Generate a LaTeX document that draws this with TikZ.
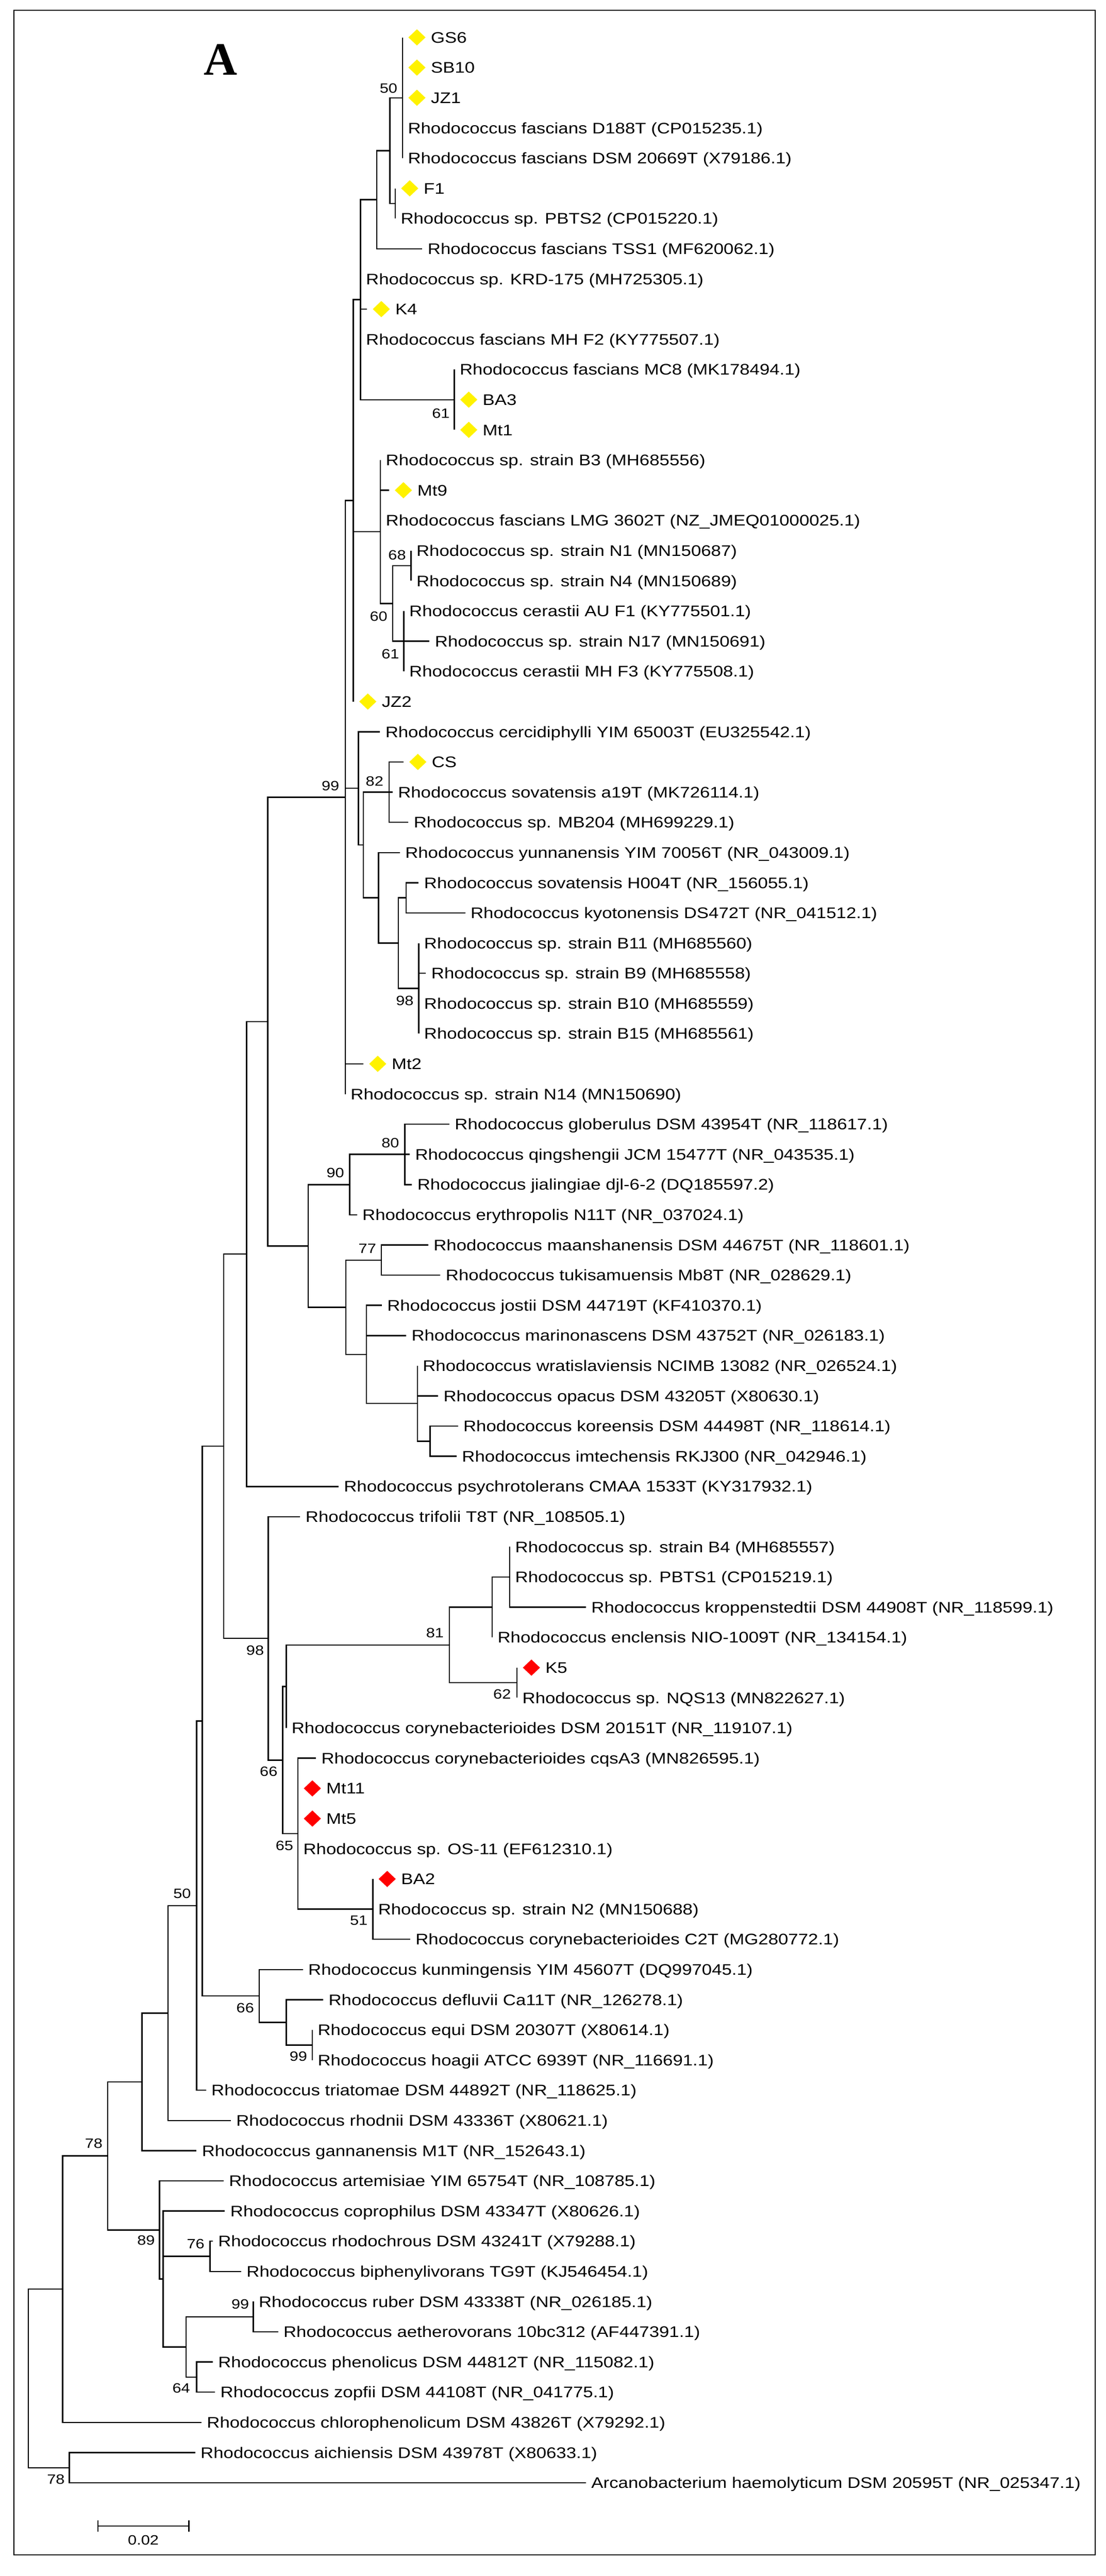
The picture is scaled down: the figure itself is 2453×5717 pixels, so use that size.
\documentclass[tikz,border=0pt]{standalone}
\usepackage{fontspec}
\setmainfont{Liberation Sans}[FakeStretch=1.17]
\newfontfamily\panelfont{Liberation Serif}
\usetikzlibrary{positioning,shapes.geometric}
\tikzset{
	taxon/.style={anchor=west, inner xsep=3pt, inner ysep=0pt, outer sep=0pt, text height=6.1pt, text depth=0pt, font=\fontsize{8.5pt}{10pt}\selectfont},
	boot/.style={inner sep=0pt, outer sep=0pt, text height=5.4pt, text depth=0pt, font=\fontsize{7.5pt}{9pt}\selectfont},
	isoY/.style={diamond, draw=none, fill=yellow, inner sep=0pt, outer sep=0pt, minimum width=9.5pt, minimum height=9pt},
	isoR/.style={isoY, fill=red},
	panel/.style={inner sep=0pt, text height=17pt, text depth=0pt, font=\panelfont\bfseries\fontsize{25.75pt}{30pt}\selectfont}
}
\begin{document}
\begin{tikzpicture}[x=0.25pt, y=-0.25pt, line width=0.7pt]
	\useasboundingbox (0,0) rectangle (2453,5717);
	\draw (31,23) rectangle (2430,5670);
	\node[panel] (pA) at (489,132) {A};

	% internal nodes
	\coordinate (n50a) at (893,217);
	\coordinate (nF1) at (877,451.5);
	\coordinate (nB) at (865,334.25);
	\coordinate (nC) at (836,443.1);
	\coordinate (n61a) at (1008,887);
	\coordinate (nD) at (800,665);
	\coordinate (n68) at (912,1255.5);
	\coordinate (n61b) at (896,1423);
	\coordinate (n60) at (871,1339.25);
	\coordinate (nF) at (844,1180.1);
	\coordinate (nE) at (784,1111);
	\coordinate (n82) at (863,1758);
	\coordinate (nO) at (901,1992.5);
	\coordinate (n98a) at (929,2193.5);
	\coordinate (nN) at (884,2093);
	\coordinate (nM) at (840,1992.5);
	\coordinate (nK) at (806,1875.25);
	\coordinate (nJ) at (795,1749.6);
	\coordinate (n99a) at (766,1769.5);
	\coordinate (n80) at (898,2562);
	\coordinate (n90) at (776,2629);
	\coordinate (n77) at (846,2796.5);
	\coordinate (nY) at (954,3198.5);
	\coordinate (nX) at (926,3114.75);
	\coordinate (nW) at (813,3005.9);
	\coordinate (nT) at (767,2901.2);
	\coordinate (nR) at (684,2765.1);
	\coordinate (nQ) at (594,2267.3);
	\coordinate (nZ) at (547,2783.2);
	\coordinate (nAI) at (1131,3500);
	\coordinate (nAG) at (1092,3567);
	\coordinate (n62) at (1147,3734.5);
	\coordinate (n81) at (997,3650.75);
	\coordinate (nAE) at (635,3742.9);
	\coordinate (n51) at (827,4237);
	\coordinate (n65) at (661,4069.5);
	\coordinate (n66a) at (627,3906.2);
	\coordinate (n98b) at (595,3636.1);
	\coordinate (nAA) at (496,3209.6);
	\coordinate (n99b) at (693,4538.5);
	\coordinate (nAN) at (635,4488.25);
	\coordinate (n66b) at (575,4429.6);
	\coordinate (nAK) at (449,3819.6);
	\coordinate (n50b) at (436,4229.3);
	\coordinate (nAP) at (373,4467.7);
	\coordinate (nAQ) at (315,4620.3);
	\coordinate (n76) at (466,5007.5);
	\coordinate (n99c) at (562,5141.5);
	\coordinate (n64) at (436,5275.5);
	\coordinate (nAV) at (413,5208.5);
	\coordinate (nAT) at (362,5057.75);
	\coordinate (n89) at (354,4948.9);
	\coordinate (n78a) at (239,4784.6);
	\coordinate (nAY) at (139,5080.3);
	\coordinate (n78b) at (154,5476.5);
	\coordinate (root) at (63,5278.4);

	% isolates
	\coordinate (c0) at (893,83);    \node[isoY, right=3.25pt of c0] (d0) {};   \node[taxon] (t0) at (d0.east) {GS6};
	\coordinate (c1) at (893,150);   \node[isoY, right=3.25pt of c1] (d1) {};   \node[taxon] (t1) at (d1.east) {SB10};
	\coordinate (c2) at (893,217);   \node[isoY, right=3.25pt of c2] (d2) {};   \node[taxon] (t2) at (d2.east) {JZ1};
	\coordinate (c5) at (877,418);   \node[isoY, right=3.25pt of c5] (d5) {};   \node[taxon] (t5) at (d5.east) {F1};
	\coordinate (c9) at (814,686);   \node[isoY, right=3.25pt of c9] (d9) {};   \node[taxon] (t9) at (d9.east) {K4};
	\coordinate (c12) at (1008,887); \node[isoY, right=3.25pt of c12] (d12) {}; \node[taxon] (t12) at (d12.east) {BA3};
	\coordinate (c13) at (1008,954); \node[isoY, right=3.25pt of c13] (d13) {}; \node[taxon] (t13) at (d13.east) {Mt1};
	\coordinate (c15) at (863,1088); \node[isoY, right=3.25pt of c15] (d15) {}; \node[taxon] (t15) at (d15.east) {Mt9};
	\coordinate (c22) at (784,1557); \node[isoY, right=3.25pt of c22] (d22) {}; \node[taxon] (t22) at (d22.east) {JZ2};
	\coordinate (c24) at (895,1691); \node[isoY, right=3.25pt of c24] (d24) {}; \node[taxon] (t24) at (d24.east) {CS};
	\coordinate (c34) at (806,2361); \node[isoY, right=3.25pt of c34] (d34) {}; \node[taxon] (t34) at (d34.east) {Mt2};
	\coordinate (c54) at (1147,3701); \node[isoR, right=3.25pt of c54] (d54) {}; \node[taxon] (t54) at (d54.east) {K5};
	\coordinate (c58) at (661,3969); \node[isoR, right=3.25pt of c58] (d58) {}; \node[taxon] (t58) at (d58.east) {Mt11};
	\coordinate (c59) at (661,4036); \node[isoR, right=3.25pt of c59] (d59) {}; \node[taxon] (t59) at (d59.east) {Mt5};
	\coordinate (c61) at (827,4170); \node[isoR, right=3.25pt of c61] (d61) {}; \node[taxon] (t61) at (d61.east) {BA2};

	% reference strains
	\node[taxon] (t3) at (893,284) {Rhodococcus fascians D188T (CP015235.1)};
	\node[taxon] (t4) at (893,351) {Rhodococcus fascians DSM 20669T (X79186.1)};
	\node[taxon] (t6) at (877,485) {Rhodococcus sp. PBTS2 (CP015220.1)};
	\node[taxon] (t7) at (937,552) {Rhodococcus fascians TSS1 (MF620062.1)};
	\node[taxon] (t8) at (800,619) {Rhodococcus sp. KRD-175 (MH725305.1)};
	\node[taxon] (t10) at (800,753) {Rhodococcus fascians MH F2 (KY775507.1)};
	\node[taxon] (t11) at (1008,820) {Rhodococcus fascians MC8 (MK178494.1)};
	\node[taxon] (t14) at (844,1021) {Rhodococcus sp. strain B3 (MH685556)};
	\node[taxon] (t16) at (844,1155) {Rhodococcus fascians LMG 3602T (NZ\_JMEQ01000025.1)};
	\node[taxon] (t17) at (912,1222) {Rhodococcus sp. strain N1 (MN150687)};
	\node[taxon] (t18) at (912,1289) {Rhodococcus sp. strain N4 (MN150689)};
	\node[taxon] (t19) at (896,1356) {Rhodococcus cerastii AU F1 (KY775501.1)};
	\node[taxon] (t20) at (953,1423) {Rhodococcus sp. strain N17 (MN150691)};
	\node[taxon] (t21) at (896,1490) {Rhodococcus cerastii MH F3 (KY775508.1)};
	\node[taxon] (t23) at (843,1624) {Rhodococcus cercidiphylli YIM 65003T (EU325542.1)};
	\node[taxon] (t25) at (871,1758) {Rhodococcus sovatensis a19T (MK726114.1)};
	\node[taxon] (t26) at (906,1825) {Rhodococcus sp. MB204 (MH699229.1)};
	\node[taxon] (t27) at (887,1892) {Rhodococcus yunnanensis YIM 70056T (NR\_043009.1)};
	\node[taxon] (t28) at (929,1959) {Rhodococcus sovatensis H004T (NR\_156055.1)};
	\node[taxon] (t29) at (1032,2026) {Rhodococcus kyotonensis DS472T (NR\_041512.1)};
	\node[taxon] (t30) at (929,2093) {Rhodococcus sp. strain B11 (MH685560)};
	\node[taxon] (t31) at (945,2160) {Rhodococcus sp. strain B9 (MH685558)};
	\node[taxon] (t32) at (929,2227) {Rhodococcus sp. strain B10 (MH685559)};
	\node[taxon] (t33) at (929,2294) {Rhodococcus sp. strain B15 (MH685561)};
	\node[taxon] (t35) at (766,2428) {Rhodococcus sp. strain N14 (MN150690)};
	\node[taxon] (t36) at (997,2495) {Rhodococcus globerulus DSM 43954T (NR\_118617.1)};
	\node[taxon] (t37) at (909,2562) {Rhodococcus qingshengii JCM 15477T (NR\_043535.1)};
	\node[taxon] (t38) at (914,2629) {Rhodococcus jialingiae djl-6-2 (DQ185597.2)};
	\node[taxon] (t39) at (792,2696) {Rhodococcus erythropolis N11T (NR\_037024.1)};
	\node[taxon] (t40) at (950,2763) {Rhodococcus maanshanensis DSM 44675T (NR\_118601.1)};
	\node[taxon] (t41) at (977,2830) {Rhodococcus tukisamuensis Mb8T (NR\_028629.1)};
	\node[taxon] (t42) at (847,2897) {Rhodococcus jostii DSM 44719T (KF410370.1)};
	\node[taxon] (t43) at (901,2964) {Rhodococcus marinonascens DSM 43752T (NR\_026183.1)};
	\node[taxon] (t44) at (926,3031) {Rhodococcus wratislaviensis NCIMB 13082 (NR\_026524.1)};
	\node[taxon] (t45) at (972,3098) {Rhodococcus opacus DSM 43205T (X80630.1)};
	\node[taxon] (t46) at (1016,3165) {Rhodococcus koreensis DSM 44498T (NR\_118614.1)};
	\node[taxon] (t47) at (1013,3232) {Rhodococcus imtechensis RKJ300 (NR\_042946.1)};
	\node[taxon] (t48) at (751,3299) {Rhodococcus psychrotolerans CMAA 1533T (KY317932.1)};
	\node[taxon] (t49) at (666,3366) {Rhodococcus trifolii T8T (NR\_108505.1)};
	\node[taxon] (t50) at (1131,3433) {Rhodococcus sp. strain B4 (MH685557)};
	\node[taxon] (t51) at (1131,3500) {Rhodococcus sp. PBTS1 (CP015219.1)};
	\node[taxon] (t52) at (1300,3567) {Rhodococcus kroppenstedtii DSM 44908T (NR\_118599.1)};
	\node[taxon] (t53) at (1092,3634) {Rhodococcus enclensis NIO-1009T (NR\_134154.1)};
	\node[taxon] (t55) at (1147,3768) {Rhodococcus sp. NQS13 (MN822627.1)};
	\node[taxon] (t56) at (635,3835) {Rhodococcus corynebacterioides DSM 20151T (NR\_119107.1)};
	\node[taxon] (t57) at (701,3902) {Rhodococcus corynebacterioides cqsA3 (MN826595.1)};
	\node[taxon] (t60) at (661,4103) {Rhodococcus sp. OS-11 (EF612310.1)};
	\node[taxon] (t62) at (827,4237) {Rhodococcus sp. strain N2 (MN150688)};
	\node[taxon] (t63) at (910,4304) {Rhodococcus corynebacterioides C2T (MG280772.1)};
	\node[taxon] (t64) at (672,4371) {Rhodococcus kunmingensis YIM 45607T (DQ997045.1)};
	\node[taxon] (t65) at (717,4438) {Rhodococcus defluvii Ca11T (NR\_126278.1)};
	\node[taxon] (t66) at (693,4505) {Rhodococcus equi DSM 20307T (X80614.1)};
	\node[taxon] (t67) at (693,4572) {Rhodococcus hoagii ATCC 6939T (NR\_116691.1)};
	\node[taxon] (t68) at (457,4639) {Rhodococcus triatomae DSM 44892T (NR\_118625.1)};
	\node[taxon] (t69) at (512,4706) {Rhodococcus rhodnii DSM 43336T (X80621.1)};
	\node[taxon] (t70) at (436,4773) {Rhodococcus gannanensis M1T (NR\_152643.1)};
	\node[taxon] (t71) at (496,4840) {Rhodococcus artemisiae YIM 65754T (NR\_108785.1)};
	\node[taxon] (t72) at (499,4907) {Rhodococcus coprophilus DSM 43347T (X80626.1)};
	\node[taxon] (t73) at (472,4974) {Rhodococcus rhodochrous DSM 43241T (X79288.1)};
	\node[taxon] (t74) at (535,5041) {Rhodococcus biphenylivorans TG9T (KJ546454.1)};
	\node[taxon] (t75) at (562,5108) {Rhodococcus ruber DSM 43338T (NR\_026185.1)};
	\node[taxon] (t76) at (617,5175) {Rhodococcus aetherovorans 10bc312 (AF447391.1)};
	\node[taxon] (t77) at (472,5242) {Rhodococcus phenolicus DSM 44812T (NR\_115082.1)};
	\node[taxon] (t78) at (477,5309) {Rhodococcus zopfii DSM 44108T (NR\_041775.1)};
	\node[taxon] (t79) at (447,5376) {Rhodococcus chlorophenolicum DSM 43826T (X79292.1)};
	\node[taxon] (t80) at (433,5443) {Rhodococcus aichiensis DSM 43978T (X80633.1)};
	\node[taxon] (t81) at (1300,5510) {Arcanobacterium haemolyticum DSM 20595T (NR\_025347.1)};

	% branches
	\draw (n50a) |- (c0) (n50a) |- (c1) (n50a) |- (c2) (n50a) |- (t3.west) (n50a) |- (t4.west);
	\draw (nF1) |- (c5) (nF1) |- (t6.west);
	\draw (nB) |- (n50a) (nB) |- (nF1);
	\draw (nC) |- (nB) (nC) |- (t7.west);
	\draw (n61a) |- (t11.west) (n61a) |- (c12) (n61a) |- (c13);
	\draw (nD) |- (nC) (nD) |- (t8.west) (nD) |- (c9) (nD) |- (t10.west) (nD) |- (n61a);
	\draw (n68) |- (t17.west) (n68) |- (t18.west);
	\draw (n61b) |- (t19.west) (n61b) |- (t20.west) (n61b) |- (t21.west);
	\draw (n60) |- (n68) (n60) |- (n61b);
	\draw (nF) |- (t14.west) (nF) |- (c15) (nF) |- (t16.west) (nF) |- (n60);
	\draw (nE) |- (nD) (nE) |- (nF) (nE) |- (c22);
	\draw (n82) |- (c24) (n82) |- (t25.west) (n82) |- (t26.west);
	\draw (nO) |- (t28.west) (nO) |- (t29.west);
	\draw (n98a) |- (t30.west) (n98a) |- (t31.west) (n98a) |- (t32.west) (n98a) |- (t33.west);
	\draw (nN) |- (nO) (nN) |- (n98a);
	\draw (nM) |- (t27.west) (nM) |- (nN);
	\draw (nK) |- (n82) (nK) |- (nM);
	\draw (nJ) |- (t23.west) (nJ) |- (nK);
	\draw (n99a) |- (nE) (n99a) |- (nJ) (n99a) |- (c34) (n99a) |- (t35.west);
	\draw (n80) |- (t36.west) (n80) |- (t37.west) (n80) |- (t38.west);
	\draw (n90) |- (n80) (n90) |- (t39.west);
	\draw (n77) |- (t40.west) (n77) |- (t41.west);
	\draw (nY) |- (t46.west) (nY) |- (t47.west);
	\draw (nX) |- (t44.west) (nX) |- (t45.west) (nX) |- (nY);
	\draw (nW) |- (t42.west) (nW) |- (t43.west) (nW) |- (nX);
	\draw (nT) |- (n77) (nT) |- (nW);
	\draw (nR) |- (n90) (nR) |- (nT);
	\draw (nQ) |- (n99a) (nQ) |- (nR);
	\draw (nZ) |- (nQ) (nZ) |- (t48.west);
	\draw (nAI) |- (t50.west) (nAI) |- (t51.west) (nAI) |- (t52.west);
	\draw (nAG) |- (nAI) (nAG) |- (t53.west);
	\draw (n62) |- (c54) (n62) |- (t55.west);
	\draw (n81) |- (nAG) (n81) |- (n62);
	\draw (nAE) |- (n81) (nAE) |- (t56.west);
	\draw (n51) |- (c61) (n51) |- (t62.west) (n51) |- (t63.west);
	\draw (n65) |- (t57.west) (n65) |- (c58) (n65) |- (c59) (n65) |- (t60.west) (n65) |- (n51);
	\draw (n66a) |- (nAE) (n66a) |- (n65);
	\draw (n98b) |- (t49.west) (n98b) |- (n66a);
	\draw (nAA) |- (nZ) (nAA) |- (n98b);
	\draw (n99b) |- (t66.west) (n99b) |- (t67.west);
	\draw (nAN) |- (t65.west) (nAN) |- (n99b);
	\draw (n66b) |- (t64.west) (n66b) |- (nAN);
	\draw (nAK) |- (nAA) (nAK) |- (n66b);
	\draw (n50b) |- (nAK) (n50b) |- (t68.west);
	\draw (nAP) |- (n50b) (nAP) |- (t69.west);
	\draw (nAQ) |- (nAP) (nAQ) |- (t70.west);
	\draw (n76) |- (t73.west) (n76) |- (t74.west);
	\draw (n99c) |- (t75.west) (n99c) |- (t76.west);
	\draw (n64) |- (t77.west) (n64) |- (t78.west);
	\draw (nAV) |- (n99c) (nAV) |- (n64);
	\draw (nAT) |- (t72.west) (nAT) |- (n76) (nAT) |- (nAV);
	\draw (n89) |- (t71.west) (n89) |- (nAT);
	\draw (n78a) |- (nAQ) (n78a) |- (n89);
	\draw (nAY) |- (n78a) (nAY) |- (t79.west);
	\draw (n78b) |- (t80.west) (n78b) |- (t81.west);
	\draw (root) |- (nAY) (root) |- (n78b);

	% bootstrap values
	\node[boot] (b50a) at (862,196) {50};
	\node[boot] (b61a) at (978,917) {61};
	\node[boot] (b68) at (881,1232) {68};
	\node[boot] (b60) at (840,1367) {60};
	\node[boot] (b61b) at (866,1451) {61};
	\node[boot] (b99a) at (733,1744) {99};
	\node[boot] (b82) at (831,1733) {82};
	\node[boot] (b98a) at (898,2221) {98};
	\node[boot] (b80) at (866,2536) {80};
	\node[boot] (b90) at (744,2602) {90};
	\node[boot] (b77) at (815,2771) {77};
	\node[boot] (b81) at (965,3624) {81};
	\node[boot] (b98b) at (566,3662) {98};
	\node[boot] (b62) at (1114,3760) {62};
	\node[boot] (b66a) at (596,3931) {66};
	\node[boot] (b65) at (631,4096) {65};
	\node[boot] (b50b) at (404,4202) {50};
	\node[boot] (b51) at (796,4261) {51};
	\node[boot] (b66b) at (544,4456) {66};
	\node[boot] (b99b) at (662,4563) {99};
	\node[boot] (b78a) at (208,4756) {78};
	\node[boot] (b89) at (324,4972) {89};
	\node[boot] (b76) at (434,4979) {76};
	\node[boot] (b99c) at (533,5113) {99};
	\node[boot] (b64) at (402,5300) {64};
	\node[boot] (b78b) at (124,5502) {78};

	% scale bar
	\coordinate (sbL) at (217,5606);
	\coordinate (sbR) at (419,5606);
	\draw (sbL) -- (sbR);
	\draw (sbL) ++(0,-13) -- ++(0,26);
	\draw (sbR) ++(0,-13) -- ++(0,26);
	\node[boot] (sbT) at (318,5637) {0.02};
\end{tikzpicture}
\end{document}
